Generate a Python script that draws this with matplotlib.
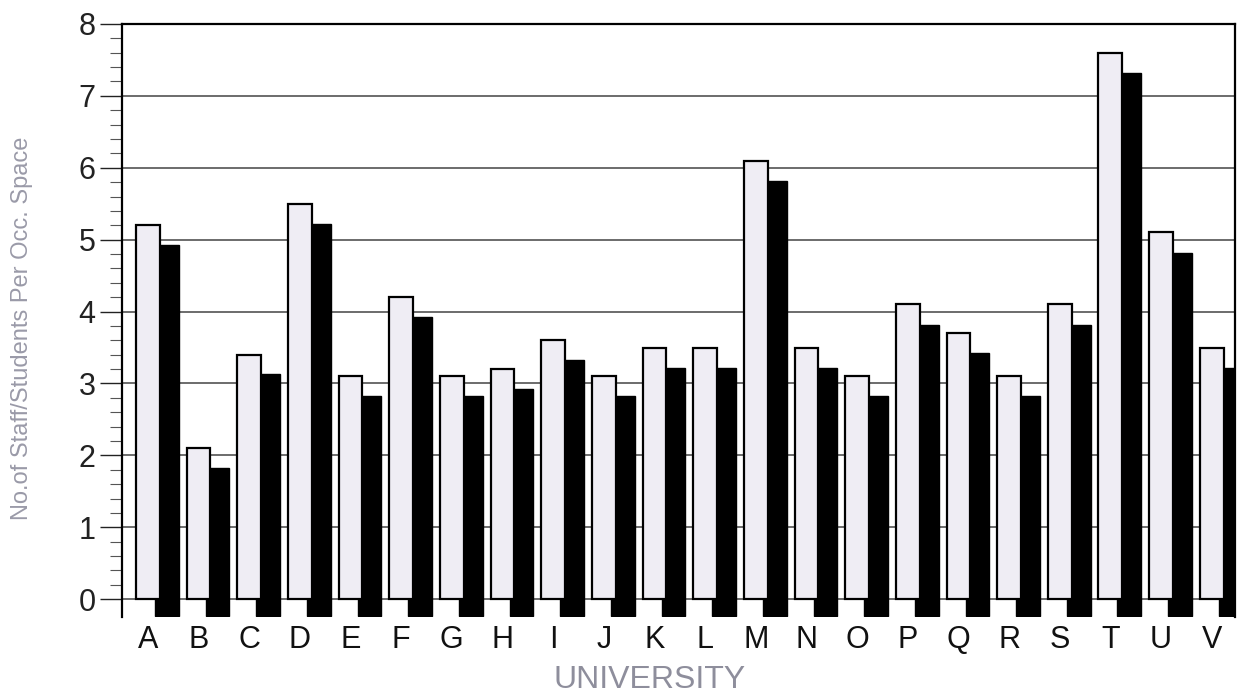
import matplotlib
matplotlib.use("Agg")
import matplotlib.pyplot as plt
import numpy as np

plt.rcParams['font.family'] = ['Liberation Sans', 'DejaVu Sans']

# universities and values
universities = list("ABCDEFGHIJKLMNOPQRSTUV")
front_vals = [5.2, 2.1, 3.4, 5.5, 3.1, 4.2, 3.1, 3.2, 3.6, 3.1, 3.5,
              3.5, 6.1, 3.5, 3.1, 4.1, 3.7, 3.1, 4.1, 7.6, 5.1, 3.5]
back_vals = [4.93, 1.83, 3.13, 5.22, 2.83, 3.92, 2.83, 2.93, 3.33, 2.83, 3.22,
             3.22, 5.82, 3.22, 2.83, 3.82, 3.42, 2.82, 3.82, 7.32, 4.82, 3.22]
back_base = -0.24

fig = plt.figure(figsize=(12.37, 6.95), dpi=100)
ax = fig.add_axes([0.0986, 0.112, 0.8994, 0.8535])

x = np.arange(len(universities))
w = 0.47

# black "shadow" bars, behind and offset
ax.bar(x + 0.375, np.array(back_vals) - back_base, bottom=back_base, width=w,
       color='black', edgecolor='black', linewidth=1, zorder=2)
# light front bars
ax.bar(x, front_vals, width=w, color='#efedf4', edgecolor='black',
       linewidth=1.6, zorder=3)

ax.set_xlim(-0.51, 21.45)
ax.set_ylim(-0.25, 8)

for v in range(0, 9):
    ax.axhline(v, color='#444444', linewidth=1.1, zorder=1)

ax.set_yticks(range(0, 9))
ax.set_yticks(np.arange(0, 8.01, 0.2), minor=True)
ax.tick_params(axis='y', which='major', direction='out', length=16, width=1,
               labelsize=22, pad=3, colors='#222222')
ax.tick_params(axis='y', which='minor', direction='out', length=9, width=0.8,
               color='#555555')
ax.set_xticks(x)
ax.set_xticklabels(universities)
ax.tick_params(axis='x', length=0, labelsize=22, pad=6, colors='#111111')

ax.spines['bottom'].set_visible(False)
for s in ['left', 'top', 'right']:
    ax.spines[s].set_linewidth(1.6)
    ax.spines[s].set_color('black')

ax.set_ylabel('No.of Staff/Students Per Occ. Space', fontsize=17,
              color='#9a9aa8', va='center')
ax.yaxis.set_label_coords(-0.09, 0.487)
fig.text(650 / 1237, 1 - 680 / 695, 'UNIVERSITY', fontsize=23,
         color='#8e8e9c', ha='center', va='center')

fig.savefig('out.png', dpi=100)
